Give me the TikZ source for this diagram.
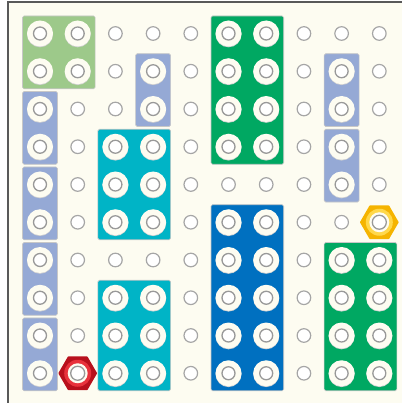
\documentclass[tikz,border=0pt]{standalone}
\usepackage{tikz}
\definecolor{board}{HTML}{FDFCF1}
\definecolor{lgreen}{HTML}{9DC98A}
\definecolor{lblue}{HTML}{95A9D5}
\definecolor{bteal}{HTML}{00B4C6}
\definecolor{bgreen}{HTML}{00A862}
\definecolor{bblue}{HTML}{0070C0}
\definecolor{hexred}{HTML}{B8101C}
\definecolor{hexredlt}{HTML}{E8323C}
\definecolor{hexyel}{HTML}{F5B400}
\definecolor{hexyellt}{HTML}{FFD84A}
\tikzset{
  peg/.style={draw=black!35,line width=1.2pt,fill=white},
  ring/.style={fill=board},
  hole/.style={draw=black!40,line width=1.3pt,fill=white},
  brk/.style={draw=black!22,line width=0.6pt,rounded corners=1.5pt,fill=#1},
  nut/.style={draw=#1,line width=1.6pt,line join=round},
}
% one brick: col, row, width, height, colour
\newcommand{\brick}[5]{%
  \draw[brk=#5] (#1-0.464,#2-0.464) rectangle (#1+#3-1+0.464,#2+#4-1+0.464);
  \foreach \i in {1,...,#3}{\foreach \j in {1,...,#4}{
    \fill[black!18] ([yshift=-0.8pt]#1+\i-1,#2+\j-1) circle[radius=13pt];
    \fill[ring] (#1+\i-1,#2+\j-1) circle[radius=13pt];
    \draw[hole] (#1+\i-1,#2+\j-1) circle[radius=6.5pt];
  }}
}
% one nut: name, col, row, edge colour, inner colour
\newcommand{\nut}[5]{%
  \coordinate (#1) at (#2,#3);
  \draw[nut=#4,fill=#4] (#1) +(0:18.5pt) -- +(60:18.5pt) -- +(120:18.5pt) -- +(180:18.5pt) -- +(240:18.5pt) -- +(300:18.5pt) -- cycle;
  \fill[#5] (#1) circle[radius=13.5pt];
  \fill[board] (#1) circle[radius=10pt];
  \draw[hole] (#1) circle[radius=7pt];
}

\begin{document}
\begin{tikzpicture}[x=37.7pt,y=-37.75pt]
 \useasboundingbox (-1.061,-0.887) rectangle (9.602,9.788);
 \fill[white] (-1.061,-0.887) rectangle (9.602,9.788);
 \fill[board] (-0.85,-0.83) rectangle (9.602,9.788);
 \draw[black!65,line width=1.6pt] (-0.85,9.788) -- (-0.85,-0.83) -- (9.602,-0.83);
 % free pegs
 \foreach \i in {0,...,9}{\foreach \j in {0,...,9}{
   \draw[peg] (\i,\j) circle[radius=6.8pt];
 }}
 % bricks
 \brick{0}{0}{2}{2}{lgreen}
 \brick{0}{2}{1}{2}{lblue}
 \brick{0}{4}{1}{2}{lblue}
 \brick{0}{6}{1}{2}{lblue}
 \brick{0}{8}{1}{2}{lblue}
 \brick{3}{1}{1}{2}{lblue}
 \brick{8}{1}{1}{2}{lblue}
 \brick{8}{3}{1}{2}{lblue}
 \brick{2}{3}{2}{3}{bteal}
 \brick{2}{7}{2}{3}{bteal}
 \brick{5}{0}{2}{4}{bgreen}
 \brick{8}{6}{2}{4}{bgreen}
 \brick{5}{5}{2}{5}{bblue}
 % nuts
 \nut{rednut}{1}{9}{hexred}{hexredlt}
 \nut{yelnut}{9}{5}{hexyel}{hexyellt}
\end{tikzpicture}
\end{document}
